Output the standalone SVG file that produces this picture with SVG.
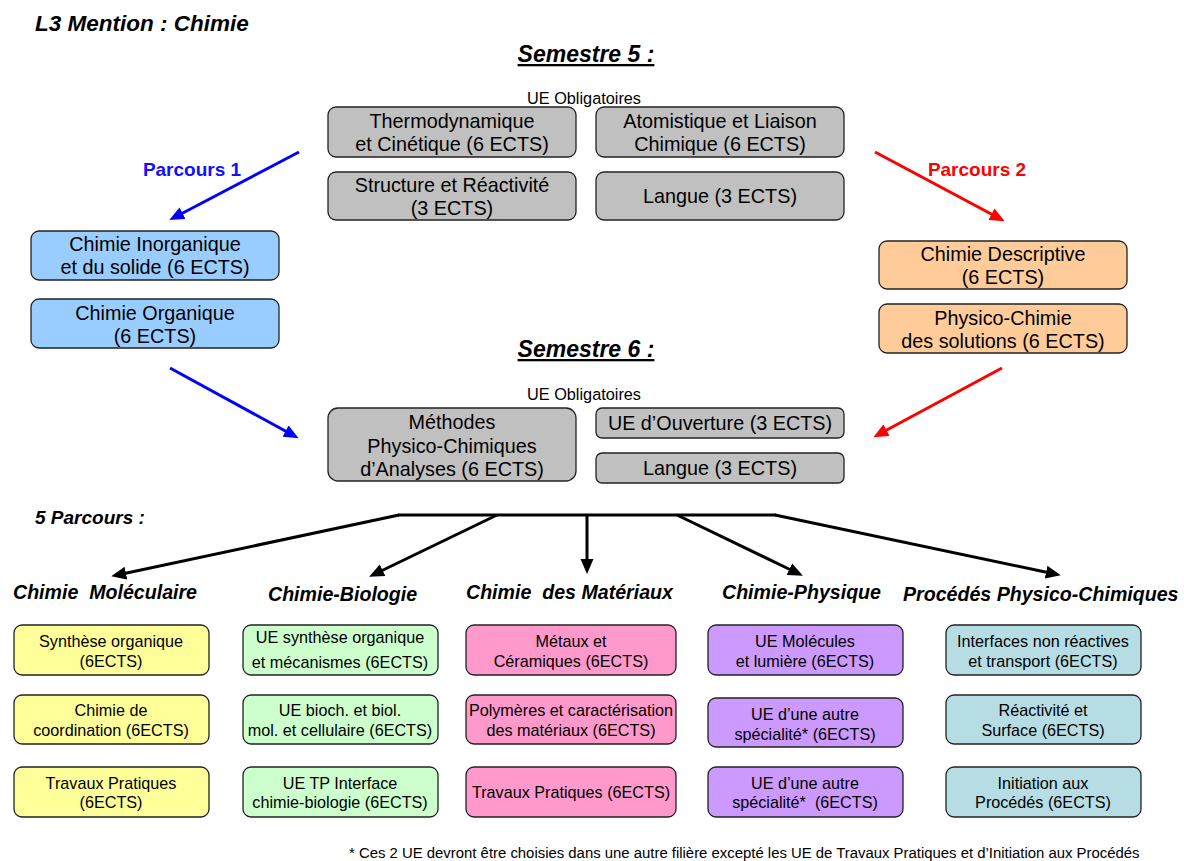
<svg xmlns="http://www.w3.org/2000/svg" width="1184" height="861" viewBox="0 0 1184 861">
<style>
text{font-family:"Liberation Sans",Arial,sans-serif;fill:#000;}
.h{font-weight:bold;font-style:italic;}
.t1{font-size:22.5px;}
.sem{font-size:23px;text-anchor:middle;text-decoration:underline;}
.ob{font-size:16.3px;text-anchor:middle;}
.bx{stroke:#222;stroke-width:1.3;}
.g{fill:#C0C0C0;}.b{fill:#99CCFF;}.o{fill:#FFCC99;}
.y{fill:#FFFF99;}.gr{fill:#CCFFCC;}.p{fill:#FF99CC;}.v{fill:#CC99FF;}.c{fill:#B6DDE3;}
.big{font-size:19.8px;text-anchor:middle;}
.sm{font-size:16.2px;text-anchor:middle;}
.lab{font-size:19.6px;white-space:pre;}
.par{font-size:19px;font-weight:bold;}
.foot{font-size:14.9px;}
</style>
<defs>
<marker id="ab" markerUnits="userSpaceOnUse" markerWidth="16" markerHeight="14" refX="4" refY="6.5" orient="auto" viewBox="0 0 16 13"><path d="M0,0 L15,6.5 L0,13 z" fill="#0000FF"/></marker>
<marker id="ar" markerUnits="userSpaceOnUse" markerWidth="16" markerHeight="14" refX="4" refY="6.5" orient="auto" viewBox="0 0 16 13"><path d="M0,0 L15,6.5 L0,13 z" fill="#FF0000"/></marker>
<marker id="ak" markerUnits="userSpaceOnUse" markerWidth="16" markerHeight="14" refX="4" refY="6.5" orient="auto" viewBox="0 0 16 13"><path d="M0,0 L15,6.5 L0,13 z" fill="#000"/></marker>
</defs>

<text x="35" y="31" class="h t1">L3 Mention : Chimie</text>
<text x="586" y="62" class="h sem">Semestre 5 :</text>
<text x="584" y="104" class="ob">UE Obligatoires</text>
<text x="586" y="357" class="h sem">Semestre 6 :</text>
<text x="584" y="400" class="ob">UE Obligatoires</text>
<text x="192" y="176" class="par" style="fill:#1010FF;text-anchor:middle">Parcours 1</text>
<text x="977" y="176" class="par" style="fill:#FF0000;text-anchor:middle">Parcours 2</text>
<text x="35" y="524" class="h par">5 Parcours :</text>

<g id="s5-thermo"><rect x="328" y="107" width="248" height="50" rx="8" class="bx g"/><text x="452" y="128" class="big">Thermodynamique</text><text x="452" y="151" class="big">et Cinétique (6 ECTS)</text></g>
<g id="s5-atom"><rect x="596" y="107" width="248" height="50" rx="8" class="bx g"/><text x="720" y="128" class="big">Atomistique et Liaison</text><text x="720" y="151" class="big">Chimique (6 ECTS)</text></g>
<g id="s5-struct"><rect x="328" y="172" width="248" height="48" rx="8" class="bx g"/><text x="452" y="192" class="big">Structure et Réactivité</text><text x="452" y="215" class="big">(3 ECTS)</text></g>
<g id="s5-langue"><rect x="596" y="172" width="248" height="48" rx="8" class="bx g"/><text x="720" y="203" class="big">Langue (3 ECTS)</text></g>

<g id="p1-inorg"><rect x="31" y="231" width="248" height="49" rx="8" class="bx b"/><text x="155" y="251" class="big">Chimie Inorganique</text><text x="155" y="274" class="big">et du solide (6 ECTS)</text></g>
<g id="p1-org"><rect x="31" y="299" width="248" height="49" rx="8" class="bx b"/><text x="155" y="320" class="big">Chimie Organique</text><text x="155" y="343" class="big">(6 ECTS)</text></g>
<g id="p2-desc"><rect x="879" y="241" width="248" height="48" rx="8" class="bx o"/><text x="1003" y="261" class="big">Chimie Descriptive</text><text x="1003" y="284" class="big">(6 ECTS)</text></g>
<g id="p2-sol"><rect x="879" y="304" width="248" height="49" rx="8" class="bx o"/><text x="1003" y="325" class="big">Physico-Chimie</text><text x="1003" y="348" class="big">des solutions (6 ECTS)</text></g>

<g id="s6-meth"><rect x="328" y="408" width="248" height="73" rx="10" class="bx g"/><text x="452" y="429" class="big">Méthodes</text><text x="452" y="453" class="big">Physico-Chimiques</text><text x="452" y="476" class="big">d’Analyses (6 ECTS)</text></g>
<g id="s6-ouv"><rect x="596" y="408" width="248" height="30" rx="6" class="bx g"/><text x="720" y="430" class="big">UE d’Ouverture (3 ECTS)</text></g>
<g id="s6-langue"><rect x="596" y="453" width="248" height="30" rx="6" class="bx g"/><text x="720" y="475" class="big">Langue (3 ECTS)</text></g>

<text x="13" y="599" class="h lab">Chimie  Moléculaire</text>
<text x="268" y="601" class="h lab">Chimie-Biologie</text>
<text x="466" y="599" class="h lab">Chimie  des Matériaux</text>
<text x="722" y="599" class="h lab">Chimie-Physique</text>
<text x="903" y="601" class="h lab">Procédés Physico-Chimiques</text>

<g id="mol-1"><rect x="14" y="625" width="195" height="50" rx="8" class="bx y"/><text x="111" y="647" class="sm">Synthèse organique</text><text x="111" y="667" class="sm">(6ECTS)</text></g>
<g id="mol-2"><rect x="14" y="695" width="195" height="49" rx="8" class="bx y"/><text x="111" y="716" class="sm">Chimie de</text><text x="111" y="736" class="sm">coordination (6ECTS)</text></g>
<g id="mol-3"><rect x="14" y="767" width="195" height="50" rx="8" class="bx y"/><text x="111" y="789" class="sm">Travaux Pratiques</text><text x="111" y="808" class="sm">(6ECTS)</text></g>

<g id="bio-1"><rect x="243" y="625" width="195" height="50" rx="8" class="bx gr"/><text x="340" y="643" class="sm">UE synthèse organique</text><text x="340" y="668" class="sm">et mécanismes  (6ECTS)</text></g>
<g id="bio-2"><rect x="243" y="695" width="195" height="49" rx="8" class="bx gr"/><text x="340" y="716" class="sm">UE bioch. et biol.</text><text x="340" y="736" class="sm">mol. et cellulaire (6ECTS)</text></g>
<g id="bio-3"><rect x="243" y="767" width="195" height="50" rx="8" class="bx gr"/><text x="340" y="789" class="sm">UE TP Interface</text><text x="340" y="808" class="sm">chimie-biologie (6ECTS)</text></g>

<g id="mat-1"><rect x="466" y="625" width="210" height="50" rx="8" class="bx p"/><text x="571" y="647" class="sm">Métaux et</text><text x="571" y="667" class="sm">Céramiques (6ECTS)</text></g>
<g id="mat-2"><rect x="466" y="695" width="210" height="49" rx="8" class="bx p"/><text x="571" y="716" class="sm">Polymères et caractérisation</text><text x="571" y="736" class="sm">des matériaux (6ECTS)</text></g>
<g id="mat-3"><rect x="466" y="767" width="210" height="50" rx="8" class="bx p"/><text x="571" y="798" class="sm">Travaux Pratiques (6ECTS)</text></g>

<g id="phy-1"><rect x="708" y="625" width="195" height="50" rx="8" class="bx v"/><text x="805" y="647" class="sm">UE Molécules</text><text x="805" y="667" class="sm">et lumière (6ECTS)</text></g>
<g id="phy-2"><rect x="708" y="698" width="195" height="49" rx="8" class="bx v"/><text x="805" y="720" class="sm">UE d’une autre</text><text x="805" y="740" class="sm">spécialité* (6ECTS)</text></g>
<g id="phy-3"><rect x="708" y="767" width="195" height="50" rx="8" class="bx v"/><text x="805" y="789" class="sm">UE d’une autre</text><text x="805" y="808" class="sm" style="white-space:pre">spécialité*  (6ECTS)</text></g>

<g id="proc-1"><rect x="946" y="625" width="195" height="50" rx="8" class="bx c"/><text x="1043" y="647" class="sm">Interfaces non réactives</text><text x="1043" y="667" class="sm">et transport (6ECTS)</text></g>
<g id="proc-2"><rect x="946" y="695" width="195" height="49" rx="8" class="bx c"/><text x="1043" y="716" class="sm">Réactivité et</text><text x="1043" y="736" class="sm">Surface (6ECTS)</text></g>
<g id="proc-3"><rect x="946" y="767" width="195" height="50" rx="8" class="bx c"/><text x="1043" y="789" class="sm">Initiation aux</text><text x="1043" y="808" class="sm">Procédés (6ECTS)</text></g>

<text x="349" y="858" class="foot">* Ces 2 UE devront être choisies dans une autre filière excepté les UE de Travaux Pratiques et d’Initiation aux Procédés</text>

<g id="connectors" fill="none" stroke-width="3">
<line x1="299" y1="152" x2="179" y2="215" stroke="#0000FF" marker-end="url(#ab)"/>
<line x1="170" y1="368" x2="289" y2="433" stroke="#0000FF" marker-end="url(#ab)"/>
<line x1="875" y1="152" x2="995" y2="216" stroke="#FF0000" marker-end="url(#ar)"/>
<line x1="1002" y1="368" x2="883" y2="432" stroke="#FF0000" marker-end="url(#ar)"/>
<g stroke="#000">
<line x1="398" y1="515" x2="776" y2="515"/>
<line x1="399" y1="515" x2="122" y2="574" marker-end="url(#ak)"/>
<line x1="497" y1="515" x2="379" y2="572" marker-end="url(#ak)"/>
<line x1="587" y1="515" x2="587" y2="563" marker-end="url(#ak)"/>
<line x1="677" y1="515" x2="793" y2="571" marker-end="url(#ak)"/>
<line x1="775" y1="515" x2="1050" y2="573" marker-end="url(#ak)"/>
</g>
</g>
</svg>
